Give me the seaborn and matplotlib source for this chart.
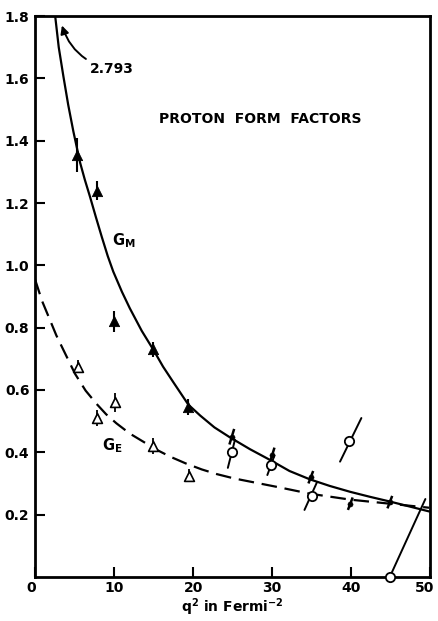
import numpy as np
import pandas as pd
import matplotlib
matplotlib.use("Agg")
import matplotlib.pyplot as plt
import matplotlib.transforms as mtransforms
import seaborn as sns

# ---------- Data ----------
# G_M curve (solid)
gm_curve_q2 = [2.55, 3.0, 3.6, 4.2, 4.85, 5.7, 6.3, 6.96, 7.7, 8.44, 9.2, 9.9, 11.0, 12.0, 13.5, 15.0, 16.2, 17.5, 19.4, 20.9, 22.7, 24.6, 27.2, 29.7, 32.2, 34.8, 37.3, 39.9, 42.4, 44.9, 47.4, 49.9]
gm_curve_val = [1.80, 1.70, 1.605, 1.515, 1.43, 1.33, 1.275, 1.22, 1.155, 1.092, 1.03, 0.98, 0.915, 0.862, 0.79, 0.728, 0.675, 0.625, 0.553, 0.518, 0.48, 0.449, 0.41, 0.376, 0.34, 0.313, 0.292, 0.273, 0.257, 0.242, 0.226, 0.21]

# G_E curve (dashed)
ge_curve_q2 = [0.0, 0.9, 1.9, 2.7, 3.6, 5.06, 6.4, 7.8, 9.0, 10.3, 12.0, 13.7, 15.4, 17.1, 19.1, 21.1, 23.0, 25.2, 28.0, 31.0, 34.8, 39.9, 44.9, 49.9]
ge_curve_val = [0.955, 0.885, 0.824, 0.775, 0.728, 0.652, 0.598, 0.555, 0.522, 0.493, 0.46, 0.434, 0.408, 0.386, 0.364, 0.345, 0.33, 0.316, 0.302, 0.287, 0.267, 0.248, 0.235, 0.222]

# G_M data, filled triangles with vertical errors
gm_q2 = [5.3, 7.8, 10.0, 14.9, 19.4]
gm_val = [1.354, 1.24, 0.82, 0.73, 0.545]
gm_err = [0.055, 0.03, 0.035, 0.025, 0.025]

# G_E data, open triangles with vertical errors
ge_q2 = [5.4, 7.9, 10.1, 14.9, 19.5]
ge_val = [0.675, 0.51, 0.56, 0.42, 0.325]
ge_err = [0.02, 0.025, 0.03, 0.025, 0.02]

# G_M high q2 points (small filled, slanted bars)
gmh_q2 = [24.9, 30.0, 34.9, 39.9, 44.9]
gmh_val = [0.45, 0.39, 0.32, 0.235, 0.24]
gmh_lo_q2 = [24.6, 29.7, 34.6, 39.6, 44.6]
gmh_lo_val = [0.425, 0.365, 0.30, 0.215, 0.22]
gmh_hi_q2 = [25.2, 30.3, 35.2, 40.2, 45.2]
gmh_hi_val = [0.475, 0.415, 0.34, 0.255, 0.26]

# G_E high q2 points (open circles, slanted bars)
ge2_q2 = [24.9, 29.9, 35.0, 39.7, 44.9]
ge2_val = [0.40, 0.36, 0.26, 0.435, 0.0]
ge2_lo_q2 = [24.4, 29.4, 34.1, 38.6, 44.9]
ge2_lo_val = [0.35, 0.327, 0.215, 0.37, 0.0]
ge2_hi_q2 = [25.3, 30.3, 35.7, 41.3, 49.4]
ge2_hi_val = [0.44, 0.39, 0.305, 0.51, 0.25]

x_ticks = [0, 10, 20, 30, 40, 50]
y_ticks = [0.2, 0.4, 0.6, 0.8, 1.0, 1.2, 1.4, 1.6, 1.8]
y_tick_labels = ["0.2", "0.4", "0.6", "0.8", "1.0", "1.2", "1.4", "1.6", "1.8"]

# ---------- Plot ----------
sns.set_style("ticks")
plt.rcParams["font.family"] = ["DejaVu Sans"]
plt.rcParams["font.weight"] = "bold"
for key in ["text.color", "axes.labelcolor", "xtick.color", "ytick.color", "axes.edgecolor"]:
    plt.rcParams[key] = "black"

fig = plt.figure(figsize=(4.38, 6.21), dpi=100)
ax = fig.add_axes([0.08, 0.071, 0.902, 0.903])

curves_gm = pd.DataFrame({"q2": gm_curve_q2, "G": gm_curve_val})
curves_ge = pd.DataFrame({"q2": ge_curve_q2, "G": ge_curve_val})
sns.lineplot(data=curves_gm, x="q2", y="G", color="black", lw=1.6, ax=ax, sort=False)
sns.lineplot(data=curves_ge, x="q2", y="G", color="black", lw=1.6, ax=ax, sort=False)
ax.lines[-1].set_dashes((7, 3.5))
for ln in ax.lines:
    ln.set_solid_joinstyle("round")
    ln.set_dash_joinstyle("round")

# vertical error bars
ax.errorbar(gm_q2, gm_val, yerr=gm_err, fmt="none", ecolor="black", elinewidth=1.5, capsize=0)
ax.errorbar(ge_q2, ge_val, yerr=ge_err, fmt="none", ecolor="black", elinewidth=1.3, capsize=0)

# slanted bars
for x0, y0, x1, y1 in zip(gmh_lo_q2, gmh_lo_val, gmh_hi_q2, gmh_hi_val):
    ax.plot([x0, x1], [y0, y1], color="black", lw=1.8, solid_capstyle="butt")
for x0, y0, x1, y1 in zip(ge2_lo_q2, ge2_lo_val, ge2_hi_q2, ge2_hi_val):
    ax.plot([x0, x1], [y0, y1], color="black", lw=1.4)

sns.scatterplot(x=gm_q2, y=gm_val, marker="^", s=55, color="black", edgecolor="black", ax=ax, zorder=5)
sns.scatterplot(x=ge_q2, y=ge_val, marker="^", s=50, facecolor="white", edgecolor="black",
                linewidth=1.2, ax=ax, zorder=5)
sns.scatterplot(x=gmh_q2, y=gmh_val, marker="o", s=14, color="black", edgecolor="black", ax=ax, zorder=5)
sns.scatterplot(x=ge2_q2, y=ge2_val, marker="o", s=45, facecolor="white", edgecolor="black",
                linewidth=1.3, ax=ax, zorder=6, clip_on=False)

# annotations
ax.annotate("2.793", xy=(3.4, 1.77), xytext=(7.0, 1.63), fontsize=10, fontweight="bold",
            va="center", ha="left",
            arrowprops=dict(arrowstyle="-|>", color="black", lw=1.4, mutation_scale=12,
                            connectionstyle="arc3,rad=-0.3", shrinkA=1, shrinkB=0))
ax.text(28.5, 1.47, "PROTON  FORM  FACTORS", fontsize=10, fontweight="bold", ha="center", va="center")
ax.text(9.7, 1.08, r"G$_\mathbf{M}$", fontsize=10.5, fontweight="bold", ha="left", va="center")
ax.text(8.5, 0.42, r"G$_\mathbf{E}$", fontsize=10.5, fontweight="bold", ha="left", va="center")

ax.set_xlim(0, 50)
ax.set_ylim(0, 1.8)
ax.set_xticks(x_ticks)
ax.set_xticklabels([str(t) for t in x_ticks], fontsize=10, fontweight="bold")
ax.set_yticks(y_ticks)
ax.set_yticklabels(y_tick_labels, fontsize=10, fontweight="bold")
ax.tick_params(direction="in", length=7, width=1.5)
ax.tick_params(axis="x", pad=3)
ax.tick_params(axis="y", pad=4)
# keep the "50" label inside the canvas
last = ax.get_xticklabels()[-1]
last.set_transform(last.get_transform() + mtransforms.ScaledTranslation(-4 / 72, 0, fig.dpi_scale_trans))
first = ax.get_xticklabels()[0]
first.set_transform(first.get_transform() + mtransforms.ScaledTranslation(-3 / 72, 0, fig.dpi_scale_trans))
ax.set_xlabel(r"q$^\mathbf{2}$ in Fermi$^\mathbf{-2}$", fontsize=10, fontweight="bold", labelpad=1)
ax.set_ylabel("")
for sp in ax.spines.values():
    sp.set_visible(True)
    sp.set_linewidth(2.0)

fig.savefig("out.png", dpi=100)
